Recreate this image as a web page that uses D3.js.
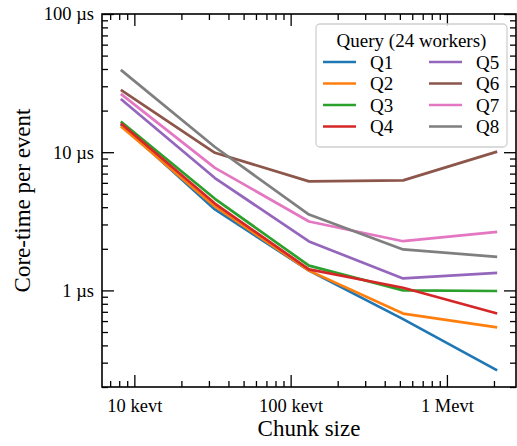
<!DOCTYPE html>
<html>
<head>
<meta charset="utf-8">
<script src="https://cdn.jsdelivr.net/npm/d3@7"></script>
<style>
  body { margin: 0; background: #fff; }
  svg text { font-family: "Liberation Serif", "Times New Roman", "DejaVu Serif", serif; }
</style>
</head>
<body>
<div id="chart"></div>
<script>
// chunk sizes (events) and core-time per event (µs)
const chunks = [8192, 32768, 131072, 524288, 2097152];
const queries = ["Q1", "Q2", "Q3", "Q4", "Q5", "Q6", "Q7", "Q8"];
const q1 = [15.9, 3.85, 1.39, 0.62, 0.264];
const q2 = [15.4, 4.05, 1.39, 0.68, 0.54];
const q3 = [16.7, 4.6, 1.51, 1.0, 0.99];
const q4 = [16.2, 4.25, 1.42, 1.045, 0.68];
const q5 = [24.3, 6.5, 2.26, 1.22, 1.34];
const q6 = [28.3, 9.9, 6.15, 6.25, 10.1];
const q7 = [26.4, 7.7, 3.15, 2.27, 2.65];
const q8 = [39.4, 10.9, 3.54, 1.98, 1.75];
const series = [q1, q2, q3, q4, q5, q6, q7, q8];
const colors = ["#1f77b4", "#ff7f0e", "#2ca02c", "#d62728", "#9467bd", "#8c564b", "#e377c2", "#7f7f7f"];

const xMajor = [1e4, 1e5, 1e6];
const xMajorLabels = ["10 kevt", "100 kevt", "1 Mevt"];
const yMajor = [1, 10, 100];
const yMajorLabels = ["1 µs", "10 µs", "100 µs"];

const W = 517, H = 446;
const mLeft = 102, mRight = 516, mTop = 14, mBottom = 387;
const serif = '"Liberation Serif", "Times New Roman", "DejaVu Serif", serif';

// log x limits with 5% padding like matplotlib
const lo = Math.log10(chunks[0]), hi = Math.log10(chunks[chunks.length - 1]);
const pad = 0.05 * (hi - lo);
const x = d3.scaleLog([10 ** (lo - pad), 10 ** (hi + pad)], [mLeft, mRight]);
const y = d3.scaleLog([0.2, 100], [mBottom, mTop]);

// minor ticks
function minors(domain) {
    let out = [];
    for (let e = -1; e <= 7; e++) {
        for (let m = 2; m <= 9; m++) {
            let v = m * 10 ** e;
            if (v >= domain[0] * 0.999 && v <= domain[1] * 1.001) out.push(v);
        }
    }
    return out;
}
const xMinor = minors(x.domain());
const yMinor = minors(y.domain());

let svg = d3.select("#chart").append("svg")
    .attr("width", W)
    .attr("height", H);

// lines
let line = d3.line()
    .x((d, i) => x(chunks[i]))
    .y(d => y(d));

svg.append("g").selectAll("path")
    .data(series)
    .enter()
    .append("path")
    .attr("d", d => line(d))
    .style("fill", "none")
    .style("stroke", (d, i) => colors[i])
    .style("stroke-width", 2.7)
    .style("stroke-linejoin", "round");

// axes, ticks pointing in on all four sides
function styleAxis(g) {
    g.attr("font-family", null).attr("font-size", null);
    g.select(".domain").remove();
    g.selectAll("line").style("stroke", "#000").style("stroke-width", 1.3);
    g.selectAll("text").style("font-size", "18.5px").style("font-family", serif).style("fill", "#000");
}

svg.append("g")
    .attr("transform", `translate(0,${mBottom})`)
    .call(d3.axisBottom(x).tickValues(xMajor).tickSize(-12).tickPadding(12)
        .tickFormat((d, i) => xMajorLabels[i]))
    .call(styleAxis);
svg.append("g")
    .attr("transform", `translate(0,${mBottom})`)
    .call(d3.axisBottom(x).tickValues(xMinor).tickSize(-6).tickFormat(""))
    .call(styleAxis);
svg.append("g")
    .attr("transform", `translate(0,${mTop})`)
    .call(d3.axisTop(x).tickValues(xMajor).tickSize(-12).tickFormat(""))
    .call(styleAxis);
svg.append("g")
    .attr("transform", `translate(0,${mTop})`)
    .call(d3.axisTop(x).tickValues(xMinor).tickSize(-6).tickFormat(""))
    .call(styleAxis);

svg.append("g")
    .attr("transform", `translate(${mLeft},0)`)
    .call(d3.axisLeft(y).tickValues(yMajor).tickSize(-12).tickPadding(8)
        .tickFormat((d, i) => yMajorLabels[i]))
    .call(styleAxis);
svg.append("g")
    .attr("transform", `translate(${mLeft},0)`)
    .call(d3.axisLeft(y).tickValues(yMinor).tickSize(-6).tickFormat(""))
    .call(styleAxis);
svg.append("g")
    .attr("transform", `translate(${mRight},0)`)
    .call(d3.axisRight(y).tickValues(yMajor).tickSize(-12).tickFormat(""))
    .call(styleAxis);
svg.append("g")
    .attr("transform", `translate(${mRight},0)`)
    .call(d3.axisRight(y).tickValues(yMinor).tickSize(-6).tickFormat(""))
    .call(styleAxis);

// frame
svg.append("rect")
    .attr("x", mLeft)
    .attr("y", mTop)
    .attr("width", mRight - mLeft)
    .attr("height", mBottom - mTop)
    .style("fill", "none")
    .style("stroke", "#000")
    .style("stroke-width", 1.6);

// axis labels
svg.append("text")
    .attr("x", (mLeft + mRight) / 2)
    .attr("y", 436)
    .attr("text-anchor", "middle")
    .style("font-family", serif)
    .style("font-size", "23px")
    .text("Chunk size");

svg.append("text")
    .attr("transform", `translate(30,${(mTop + mBottom) / 2}) rotate(-90)`)
    .attr("text-anchor", "middle")
    .style("font-family", serif)
    .style("font-size", "23px")
    .text("Core-time per event");

// legend
let legend = svg.append("g");
legend.append("rect")
    .attr("x", 316)
    .attr("y", 24)
    .attr("width", 191)
    .attr("height", 123)
    .attr("rx", 4)
    .style("fill", "#fff")
    .style("fill-opacity", 0.8)
    .style("stroke", "#d0d0d0")
    .style("stroke-width", 1.3);
legend.append("text")
    .attr("x", 411.5)
    .attr("y", 47)
    .attr("text-anchor", "middle")
    .style("font-family", serif)
    .style("font-size", "19px")
    .text("Query (24 workers)");

let items = legend.selectAll("g.item")
    .data(queries)
    .enter()
    .append("g")
    .attr("class", "item")
    .attr("transform", (d, i) => `translate(${i < 4 ? 323 : 429},${62 + (i % 4) * 21.5})`);
items.append("line")
    .attr("x1", 0)
    .attr("x2", 33)
    .style("stroke", (d, i) => colors[i])
    .style("stroke-width", 2.7);
items.append("text")
    .attr("x", 47)
    .attr("y", 6.5)
    .style("font-family", serif)
    .style("font-size", "19px")
    .text(d => d);
</script>
</body>
</html>
